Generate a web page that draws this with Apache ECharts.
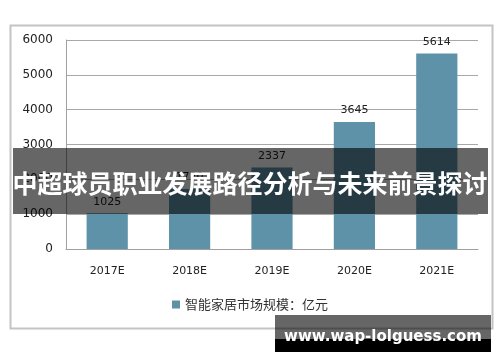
<!DOCTYPE html>
<html><head><meta charset="utf-8">
<script src="https://cdn.jsdelivr.net/npm/echarts@6/dist/echarts.min.js"></script>
<style>html,body{margin:0;padding:0;background:#fff}#c{width:500px;height:362px}</style>
</head><body><div id="c"></div>
<script>
const categories = ['2017E', '2018E', '2019E', '2020E', '2021E'];
const marketSize = [1025, 1720, 2337, 3645, 5614];
const yTicks = [0, 1000, 2000, 3000, 4000, 5000, 6000];
const seriesName = '智能家居市场规模：亿元';
const bannerTitle = '中超球员职业发展路径分析与未来前景探讨';
const watermark = 'www.wap-lolguess.com';

const chart = echarts.init(document.getElementById('c'), null, {renderer: 'canvas'});
const font = '"DejaVu Sans", "Noto Sans CJK SC", sans-serif';
chart.setOption({
  animation: false,
  backgroundColor: '#fff',
  grid: {left: 66, right: 22, top: 40, bottom: 113, containLabel: false},
  xAxis: {
    type: 'category', data: categories,
    axisLine: {show: true, lineStyle: {color: '#a0a0a0', width: 1}},
    axisTick: {show: false},
    axisLabel: {color: '#222', fontSize: 11, fontFamily: font, margin: 17}
  },
  yAxis: {
    type: 'value', min: yTicks[0], max: yTicks[yTicks.length - 1], interval: 1000,
    axisLine: {show: true, lineStyle: {color: '#a0a0a0', width: 1}},
    axisTick: {show: false},
    splitLine: {lineStyle: {color: '#a8a8a8', width: 1}},
    axisLabel: {color: '#222', fontSize: 12, fontFamily: font, margin: 13, formatter: v => String(v)}
  },
  legend: {
    bottom: 46, left: 'center', itemWidth: 8, itemHeight: 8, itemGap: 4,
    icon: 'rect',
    textStyle: {color: '#333', fontSize: 13, fontFamily: '"Noto Sans CJK SC", sans-serif'},
    data: [seriesName]
  },
  series: [{
    name: seriesName, type: 'bar', data: marketSize, barWidth: '50%',
    itemStyle: {color: '#5e92a8'},
    label: {show: true, position: 'top', color: '#222', fontSize: 11, fontFamily: font, distance: 6}
  }],
  graphic: [
    {type: 'rect', z: 0, silent: true, shape: {x: 10.5, y: 25.5, width: 482, height: 303},
     style: {fill: 'none', stroke: '#c4c4c4', lineWidth: 2}},
    {type: 'rect', z: 100, silent: true, shape: {x: 13, y: 148, width: 475, height: 66},
     style: {fill: 'rgba(0,0,0,0.6)'}},
    {type: 'text', z: 101, silent: true, x: 250, y: 183,
     style: {text: bannerTitle, fill: '#fff', font: 'bold 25px "Noto Sans CJK SC", sans-serif', align: 'center', verticalAlign: 'middle'}},
    {type: 'rect', z: 100, silent: true, shape: {x: 275, y: 315, width: 216, height: 24},
     style: {fill: 'rgba(0,0,0,0.6)'}},
    {type: 'rect', z: 100, silent: true, shape: {x: 275, y: 339, width: 216, height: 13},
     style: {fill: '#000'}},
    {type: 'text', z: 101, silent: true, x: 383, y: 337,
     style: {text: watermark, fill: '#fff', font: 'bold 15px "DejaVu Sans", sans-serif', align: 'center', verticalAlign: 'middle'}}
  ]
});
</script></body></html>
